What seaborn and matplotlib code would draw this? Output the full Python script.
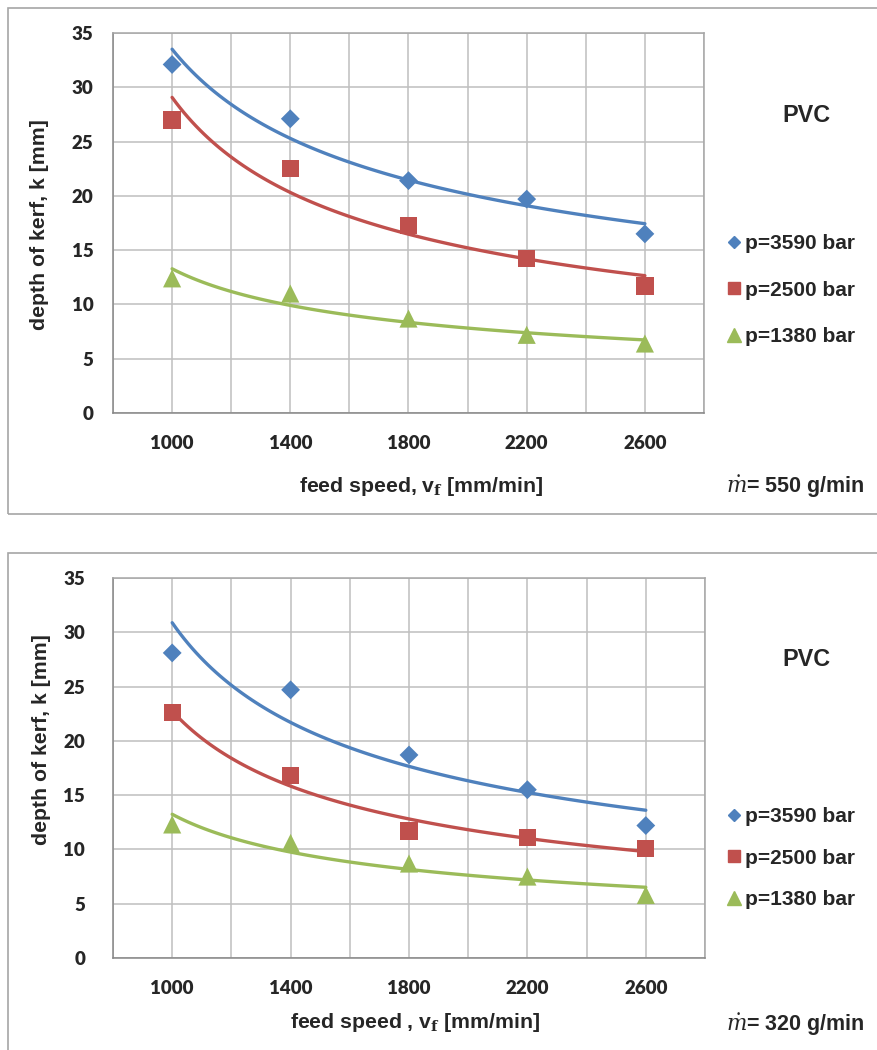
import numpy as np
import pandas as pd
import matplotlib
matplotlib.use("Agg")
import matplotlib.pyplot as plt
import seaborn as sns
from matplotlib.lines import Line2D
from matplotlib.patches import Rectangle
from matplotlib.ticker import MultipleLocator, FixedLocator

# ---- data ----
feed_speed = [1000, 1400, 1800, 2200, 2600]
pressure_labels = ["p=3590 bar", "p=2500 bar", "p=1380 bar"]

# m_dot = 550 g/min
k550_p3590 = [32.1, 27.1, 21.4, 19.7, 16.5]
k550_p2500 = [27.0, 22.5, 17.3, 14.2, 11.7]
k550_p1380 = [12.4, 11.0, 8.7, 7.2, 6.4]

# m_dot = 320 g/min
k320_p3590 = [28.1, 24.7, 18.7, 15.5, 12.2]
k320_p2500 = [22.6, 16.8, 11.7, 11.1, 10.1]
k320_p1380 = [12.3, 10.6, 8.7, 7.5, 5.8]

colors = ["#4F81BD", "#C0504D", "#9BBB59"]
markers = ["D", "s", "^"]
marker_sizes = [92, 155, 170]

W, H = 877, 1050


def to_frame(series):
    rows = []
    for lab, vals in zip(pressure_labels, series):
        for x, y in zip(feed_speed, vals):
            rows.append({"feed": x, "kerf": y, "pressure": lab})
    return pd.DataFrame(rows)


def power_trend(df):
    # Excel power trendline on a category axis: fitted against category number 1..n
    rows = []
    cat = np.arange(1, len(feed_speed) + 1)
    cs = np.linspace(1, len(feed_speed), 120)
    xs = np.interp(cs, cat, feed_speed)
    for lab in pressure_labels:
        sub = df[df["pressure"] == lab]
        b, ln_a = np.polyfit(np.log(cat), np.log(sub["kerf"].to_numpy()), 1)
        for c, x in zip(cs, xs):
            rows.append({"feed": x, "kerf": np.exp(ln_a) * c ** b, "pressure": lab})
    return pd.DataFrame(rows)


def fx(px):
    return px / W


def fy(py):
    return 1 - py / H


def draw_panel(ax, df, tick_len):
    trend = power_trend(df)
    palette = dict(zip(pressure_labels, colors))
    sns.lineplot(data=trend, x="feed", y="kerf", hue="pressure", palette=palette,
                 linewidth=2.4, legend=False, ax=ax, zorder=3)
    for lab, mk, sz in zip(pressure_labels, markers, marker_sizes):
        sub = df[df["pressure"] == lab]
        sns.scatterplot(data=sub, x="feed", y="kerf", color=palette[lab], marker=mk,
                        s=sz, edgecolor="none", legend=False, ax=ax, zorder=4)

    ax.set_xlim(800, 2800)
    ax.set_ylim(0, 35)
    ax.xaxis.set_major_locator(FixedLocator(feed_speed))
    ax.xaxis.set_minor_locator(FixedLocator(np.arange(800, 2801, 400)))
    ax.yaxis.set_major_locator(MultipleLocator(5))
    ax.grid(True, which="both", axis="x", color="#BFBFBF", linewidth=1.1)
    ax.grid(True, which="major", axis="y", color="#BFBFBF", linewidth=1.1)
    ax.set_axisbelow(True)
    ax.tick_params(axis="x", which="major", length=0, pad=16)
    ax.tick_params(axis="x", which="minor", length=tick_len, width=1.1, color="#868686", direction="out")
    ax.tick_params(axis="y", which="major", length=tick_len, width=1.1, color="#868686", pad=14)
    for t in ax.get_xticklabels() + ax.get_yticklabels():
        t.set_fontfamily("Lato")
        t.set_fontweight("heavy")
        t.set_fontsize(13.5)
    for side in ["top", "right"]:
        ax.spines[side].set_color("#A6A6A6")
        ax.spines[side].set_linewidth(1.1)
    for side in ["left", "bottom"]:
        ax.spines[side].set_color("#868686")
        ax.spines[side].set_linewidth(1.1)
    ax.set_xlabel("")
    ax.set_ylabel("")


sns.set_style("white")
plt.rcParams["font.family"] = ["Liberation Sans", "DejaVu Sans"]
plt.rcParams["mathtext.fontset"] = "dejavuserif"

fig = plt.figure(figsize=(W / 100, H / 100), dpi=100)

# panel frames
fig.patches.append(Rectangle((fx(8), fy(514)), 1.0, fy(8) - fy(514), transform=fig.transFigure,
                             fill=False, edgecolor="#A6A6A6", linewidth=1.2))
fig.patches.append(Rectangle((fx(8), fy(1060)), 1.0, fy(553) - fy(1060), transform=fig.transFigure,
                             fill=False, edgecolor="#A6A6A6", linewidth=1.2))

ax1 = fig.add_axes([fx(113), fy(413), fx(704) - fx(113), fy(33) - fy(413)])
ax2 = fig.add_axes([fx(113), fy(958), fx(705) - fx(113), fy(578) - fy(958)])

df550 = to_frame([k550_p3590, k550_p2500, k550_p1380])
df320 = to_frame([k320_p3590, k320_p2500, k320_p1380])

draw_panel(ax1, df550, 0)
draw_panel(ax2, df320, 6)

label_kw = dict(fontsize=15.3, fontweight="bold")
fig.text(fx(40), fy(225), "depth of kerf, k [mm]", rotation=90, ha="center", va="center", **label_kw)
fig.text(fx(42), fy(740), "depth of kerf, k [mm]", rotation=90, ha="center", va="center", **label_kw)
fig.text(fx(421), fy(487), r"feed speed, v$_\mathbf{f}$ [mm/min]", ha="center", va="center", **label_kw)
fig.text(fx(415), fy(1022), r"feed speed , v$_\mathbf{f}$ [mm/min]", ha="center", va="center", **label_kw)

fig.text(fx(806), fy(115), "PVC", ha="center", va="center", fontsize=16.8, fontweight="bold")
fig.text(fx(806), fy(660), "PVC", ha="center", va="center", fontsize=16.8, fontweight="bold")

fig.text(fx(726), fy(487), r"$\dot{m}$= 550 g/min", ha="left", va="center", fontsize=15.5, fontweight="bold")
fig.text(fx(726), fy(1025), r"$\dot{m}$= 320 g/min", ha="left", va="center", fontsize=15.5, fontweight="bold")

handles = [Line2D([], [], linestyle="none", marker=m, color=c, markersize=s)
           for m, c, s in zip(markers, colors, [6.5, 9, 9.5])]
leg_kw = dict(frameon=False, loc="upper left", handlelength=0.7, handletextpad=0.15,
              borderpad=0, borderaxespad=0, prop={"family": "Liberation Sans", "weight": "bold", "size": 15})
fig.legend(handles, pressure_labels, bbox_to_anchor=(fx(727), fy(234)), labelspacing=1.33, **leg_kw)
fig.legend(handles, pressure_labels, bbox_to_anchor=(fx(727), fy(807)), labelspacing=1.08, **leg_kw)

fig.savefig("out.png", dpi=100)
